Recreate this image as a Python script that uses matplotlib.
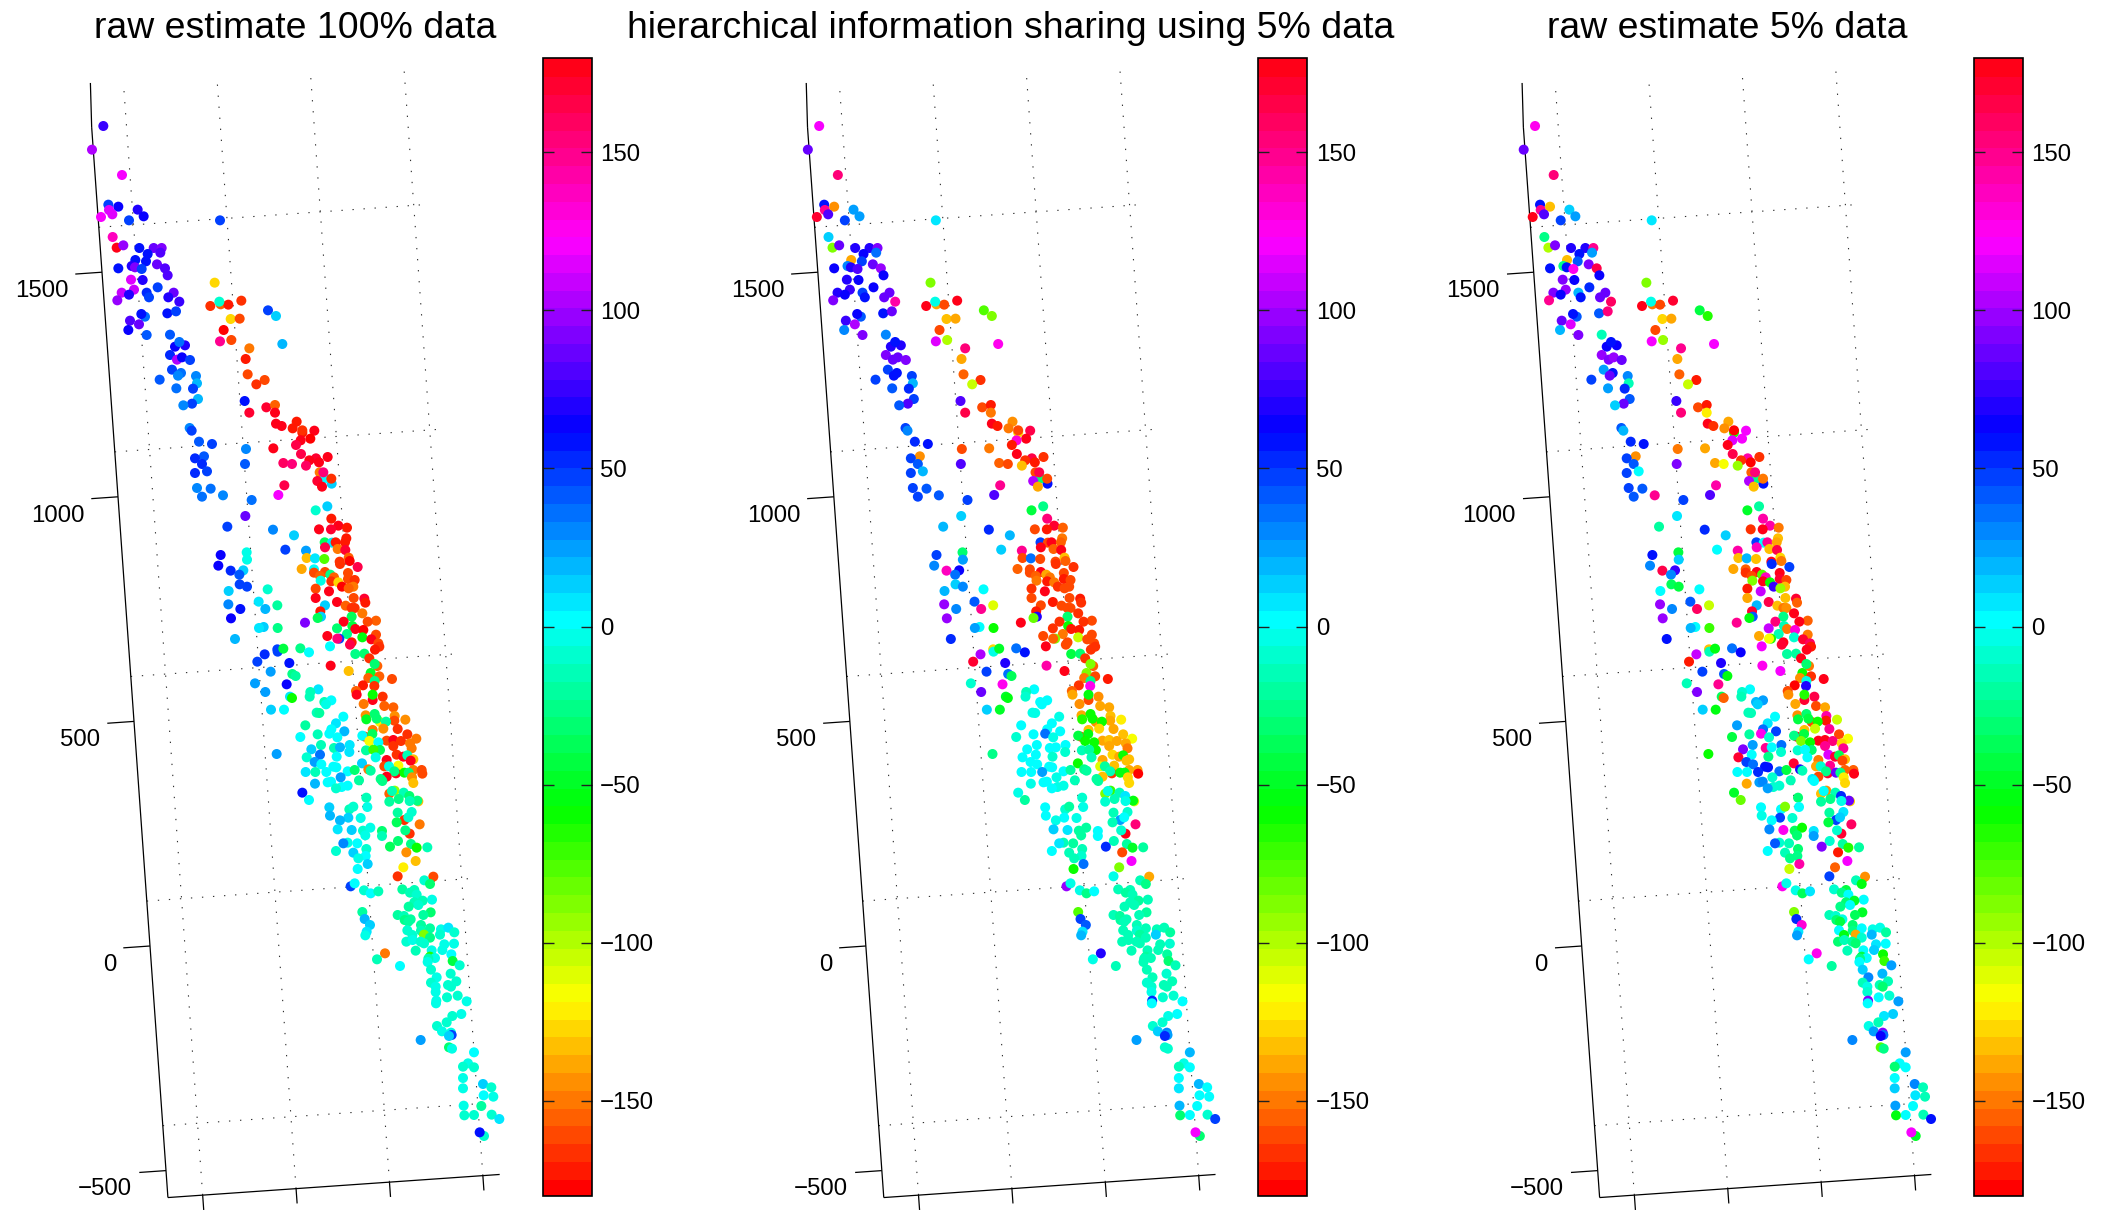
import numpy as np
import matplotlib
matplotlib.use("Agg")
import matplotlib.pyplot as plt
from matplotlib.cm import ScalarMappable
from matplotlib.colors import Normalize

plt.rcParams['font.family'] = ['Liberation Sans', 'DejaVu Sans']

titles = ["raw estimate 100% data",
          "hierarchical information sharing using 5% data",
          "raw estimate 5% data"]
title_centers = [295.5, 1011, 1727]

y_ticks = [-500, 0, 500, 1000, 1500]
y_grid = [-400, 100, 600, 1100, 1600]
x_ticks = [0, 500, 1000, 1500]
cbar_ticks = [-150, -100, -50, 0, 50, 100, 150]

# station positions in the projected view plane, read in three stretches along
# the fault, then the estimated angle at each station for each of the panels
north_x = [130,96,186,145,175,147,157,123,233,251,
           207,480,158,170,190,238,281,305,263,301,
           226,258,215,225,245,291,315,323,175,213,
           248,293,222,185,207,260,267,341,325,172,
           358,255,244,322,348,210,237,205,260,330,
           375,345,358,330,351,366,390,336,363,354,
           299,408,411,349,399,414,396,370,389,395,
           417,456,558,432,405,426,441,405,555,411,
           452,426,489,575,464,451,482,505,478,544,
           624,648,512,539,491,480,514,667,568,557,
           563,614,589,554,568,619,645,645,648,665,
           710,698,727,727,763,751,722,708,640,723,
           803,768,748,777,738,670,696,779,815,795,
           814,790,772,786,673,655]
north_y = [198,269,345,434,440,450,463,471,449,469,
           481,481,531,563,556,564,564,564,582,578,
           600,604,618,622,627,613,625,646,625,659,
           660,682,689,698,704,698,712,698,712,721,
           725,770,762,760,754,782,793,810,825,824,
           856,860,846,885,899,892,900,929,939,947,
           959,948,970,985,986,1017,1031,1036,1104,1112,
           1145,1152,1167,1189,1195,1212,1234,1239,1212,1284,
           1286,1310,1306,1320,668,738,733,734,725,722,
           751,768,777,776,810,844,840,852,865,897,
           943,960,973,1023,1058,1042,1035,1058,1091,1098,
           1085,1105,1118,1111,1112,1136,1141,1155,1165,1182,
           1191,1195,1201,1207,1217,1209,1212,1237,1271,1255,
           1256,1237,1263,1280,1276,1305]
north_full = [75,105,122,50,62,118,115,120,72,65,
              45,45,140,178,100,60,85,92,60,80,
              60,60,70,90,50,88,80,82,60,115,
              70,45,108,112,72,52,48,85,68,100,
              78,35,60,60,45,82,85,62,42,42,
              72,62,38,55,105,62,45,48,35,32,
              42,32,22,38,50,18,48,32,32,45,
              42,45,32,42,52,55,45,55,40,32,
              35,38,32,35,-128,-168,-155,-170,-8,-168,
              48,15,-128,-158,-176,150,-162,18,-148,-172,
              -162,-160,-165,60,170,170,-155,175,178,178,
              -170,-172,-172,-168,178,-176,176,168,178,165,
              178,172,175,175,158,158,155,-150,15,5,
              -166,155,170,176,168,122]
north_hier = [120,85,155,60,-145,150,80,170,28,28,
              45,10,12,-85,85,68,70,92,65,38,
              -140,48,30,68,82,85,98,62,62,70,
              66,65,75,72,62,50,58,85,88,92,
              145,40,65,60,85,75,105,32,90,30,
              68,72,60,90,88,88,92,50,60,60,
              50,45,22,42,52,46,82,40,45,30,
              52,58,-158,-142,45,42,22,45,80,45,
              42,45,42,45,-90,178,-140,-160,-5,175,
              -75,-85,-135,-137,-158,118,-100,125,155,-138,
              -155,-168,-105,80,165,-162,-170,-148,178,-170,
              -142,-148,-128,-162,165,175,130,-170,-148,178,
              -165,165,-165,-170,-130,-155,-158,-158,60,-30,
              -160,165,105,-140,150,82]
north_raw = [125,85,155,60,-130,150,80,178,12,25,
             45,10,-25,-100,95,70,72,150,58,25,
             -130,40,-25,60,125,90,165,62,60,92,
             62,52,100,95,62,22,58,85,88,150,
             160,40,60,40,155,85,118,18,95,-15,
             62,65,60,100,95,98,85,28,58,88,
             50,30,-15,25,55,42,85,15,40,20,
             52,60,-150,-145,50,40,5,45,90,48,
             42,42,150,45,-90,175,-150,-158,-5,172,
             -45,-65,-128,-140,-158,120,-95,120,150,-138,
             -152,-172,-105,78,152,-162,-172,-122,178,-168,
             -140,-142,-65,-175,122,122,118,178,-140,165,
             -165,145,-165,-176,-95,-140,-118,-155,58,-25,
             -150,155,105,-135,145,80]

mid_x = [622,587,376,322,634,655,681,597,633,459,
         522,679,614,636,647,675,615,653,676,496,
         302,380,381,558,560,585,613,686,659,689,
         660,295,713,332,370,358,545,582,582,615,
         600,631,684,642,602,634,655,684,704,359,
         381,666,700,686,587,627,443,326,587,701,
         733,651,736,416,472,325,361,436,615,677,
         695,704,727,601,603,593,333,695,671,768,
         743,555,431,417,473,651,697,706,730,768,
         681,622,658,652,727,754,775,695,690,345,
         630,778,765,472,473,490,541,567,706,733,
         434,748,412,508,772,764,632,452,686,752,
         517,527,778,745,816,764,405,500,763,729,
         595,571,708,710,436,569,758,758,788,510,
         516,613,634,618,731,793,820,453,492,590,
         598,737,764,670,824,856,780,823,739,770,
         798,648,556,758,790,833,634,673,628,593,
         862,735,727,757,652,541,889,748,800,820,
         843,870,875,775,780,689,603,642,660,820,
         738,574,688,760,650,830,850,862,767,600,
         560,470,880,872,800,584,604,726,640,649,
         835,793,807,683,704,557,586,619,745,752,
         828,823,880,905,907,853,866,662,800,782,
         787,876,880,717,585,623,633,683,665,648,
         547,808,824,816,851,868,567,739,836,895,
         892,869,808,628,688,700,742,630,875,833,
         853,865,722,685,660,899,830,653,695,729,
         751,786,869,856,736,786,683,670,712,834,
         873,890,810,922,739,648,700,859,737,715]
mid_y = [79,91,108,140,116,137,143,148,148,149,
         166,175,187,188,187,187,202,207,210,209,
         225,217,239,212,234,235,237,233,245,243,
         252,257,261,272,271,284,267,268,278,276,
         288,284,279,292,302,304,307,297,300,313,
         320,320,320,325,326,334,328,333,354,354,
         356,366,368,365,376,373,387,387,376,377,
         384,384,400,394,410,414,415,410,425,422,
         425,428,441,444,444,445,438,447,450,464,
         462,468,476,476,472,478,490,487,494,477,
         499,500,509,508,515,506,505,517,522,521,
         523,535,545,549,558,552,557,575,573,579,
         582,588,589,594,597,603,610,613,618,616,
         628,636,633,644,636,650,660,644,650,650,
         654,666,661,673,672,678,682,689,689,698,
         699,706,702,710,708,719,726,722,718,716,
         725,730,736,750,746,747,748,754,761,763,
         763,770,767,762,772,771,776,783,782,780,
         783,790,805,787,810,795,795,804,802,798,
         811,808,816,809,830,824,830,826,832,824,
         832,822,838,842,840,846,853,850,860,862,
         857,859,859,874,870,876,876,876,868,872,
         880,874,870,870,881,878,878,892,890,897,
         903,892,909,901,911,907,905,917,921,925,
         938,941,932,933,938,948,960,953,957,964,
         962,963,965,982,988,980,981,1007,996,998,
         1020,1012,1014,1013,1021,1033,1027,1048,1050,1052,
         1043,1053,1061,1051,1066,1068,1088,1090,1090,1083,
         1092,1103,1100,1102,1107,1113,1118,1117,1128,1135]
mid_full = [15,-8,85,50,-172,175,-170,178,172,32,
            15,-170,-35,8,-172,-172,168,-148,170,48,
            62,-5,-5,28,-130,8,-75,-155,-168,-176,
            -168,65,168,55,12,42,-140,5,-160,-158,
            -152,-28,-162,-155,-2,-165,-125,-160,-168,45,
            48,-176,-150,-155,-162,175,-10,15,178,-162,
            172,178,-172,8,-18,32,58,18,12,-152,
            -165,-165,-150,-172,15,-35,62,-35,178,-152,
            -160,95,12,10,-25,-32,-45,175,-176,-158,
            -25,178,48,155,-55,178,-158,-170,165,20,
            5,-168,-172,45,50,-45,-25,5,-25,-30,
            55,-165,48,58,-155,-30,178,25,-132,-50,
            -25,-22,-155,-152,-160,-25,28,62,-165,-172,
            10,-12,-155,178,25,-15,178,-60,-165,8,
            -60,-12,5,-3,-148,-155,-155,15,0,-12,
            -18,-145,-30,3,-145,-145,-122,-160,-50,-30,
            -20,8,-18,-150,-145,-165,5,22,5,-12,
            -165,-160,0,-35,3,5,-150,-115,-162,178,
            -168,-150,-148,0,-35,8,-12,-15,20,-165,
            -18,12,10,-70,0,-165,175,-15,-5,35,
            -10,28,-135,178,178,25,5,12,0,3,
            -115,-158,-5,3,-30,10,-15,0,-150,-20,
            175,-28,-150,-158,-158,-60,-30,25,178,-25,
            -25,-145,-132,-20,18,3,5,3,3,-8,
            60,-155,-95,-15,-15,-30,5,-12,-25,-135,
            -25,-15,-18,15,-12,-10,-5,20,-10,-22,
            -165,-8,-5,15,18,-148,-35,10,15,-8,
            -5,-30,-165,-25,-5,-15,-3,30,2,-32,
            -25,-60,-38,-15,-8,-10,15,-145,0,-3]
mid_hier = [-28,-45,12,18,152,172,-152,-162,-174,55,
            22,-150,48,-160,178,-155,178,-155,178,12,
            48,-32,25,150,-158,35,-158,-130,-160,-155,
            -165,32,-165,138,62,35,-155,-160,-160,178,
            -155,-138,-160,-150,-148,-170,-148,-170,-160,12,
            32,-165,-160,-158,-165,175,3,18,-162,-158,
            -172,-170,-168,42,-110,100,32,150,-160,-162,
            -160,-163,-165,-172,72,-80,100,-30,-165,-162,
            -165,175,5,25,-60,-168,-60,-170,-170,-160,
            -150,-158,-85,-155,-105,-160,-160,-158,-158,52,
            178,-165,-168,-125,-5,-50,35,58,-45,-30,
            105,-165,172,68,-155,-85,145,50,175,-85,
            35,-35,-160,-148,-170,-28,-10,125,125,-165,
            3,-12,-155,-140,88,-10,-160,-55,-145,-50,
            -55,3,5,3,-142,-140,-137,12,-50,-3,
            -5,-140,-60,-3,-135,-122,-145,-140,-65,-60,
            -60,3,2,-135,-125,-140,3,2,38,0,
            -135,-160,-45,-55,-5,-10,-118,-60,-138,-135,
            -140,-140,-150,-60,-60,3,3,0,0,-138,
            -12,3,-8,-20,-10,-125,-138,-60,-15,3,
            3,-25,-135,-135,-140,3,3,-60,3,3,
            -135,-110,-22,3,-20,3,3,25,-25,-22,
            -165,-15,-140,-140,-178,-52,-55,-5,-130,-20,
            -20,-125,-125,-12,-3,3,3,-5,-5,3,
            -5,-85,-70,-3,-15,8,-18,-10,-15,-110,
            -55,-5,-10,3,-10,-20,-5,2,-10,-12,
            25,3,-5,2,-3,155,-12,12,8,-18,
            -18,0,175,-8,-18,3,-12,8,-18,-15,
            -22,-50,55,-18,-15,0,-12,-160,-10,-15]
mid_raw = [-22,-50,8,-20,145,145,-148,-168,178,55,
           15,-135,45,5,150,-138,140,-132,165,5,
           58,-45,15,145,-130,20,-130,-125,178,-148,
           55,32,45,165,75,30,-140,-155,-165,178,
           -158,-75,176,140,-90,176,-60,172,-160,-35,
           -40,75,-135,-95,-172,108,3,5,-140,-135,
           172,168,-155,42,-105,100,32,160,18,-130,
           -150,-145,175,170,42,-55,100,-25,155,-155,
           178,148,0,18,-70,108,-15,-150,130,-150,
           -15,-138,-65,-118,-10,172,160,178,170,58,
           122,-170,178,-130,-15,-55,38,62,-20,-18,
           110,178,-172,68,-150,-30,125,48,122,-58,
           42,-55,-165,-145,178,-5,-12,150,72,-178,
           3,-10,-160,-145,92,-12,172,-62,168,-35,
           -155,22,28,15,-138,-162,-140,15,-55,-12,
           -15,-142,-30,5,145,-105,-158,-172,-45,-40,
           -58,8,25,-135,-105,148,35,50,125,-20,
           -158,178,-25,-40,-10,-40,-118,-85,178,178,
           155,-128,150,-60,-30,35,25,150,3,150,
           -8,95,-8,5,-25,115,172,-35,0,5,
           172,-60,-135,-160,-148,45,35,172,60,60,
           148,-140,-8,35,-45,5,5,55,70,-15,
           170,-25,-155,-155,175,85,-25,-10,-160,10,
           5,-120,-125,-12,-140,25,30,-10,-10,28,
           -50,-130,-145,2,-12,55,-80,-30,-25,-125,
           85,-5,-20,2,5,-85,5,-5,8,-22,
           48,12,-10,50,3,160,-40,30,125,-35,
           -60,10,172,-8,-30,25,-8,40,-15,-8,
           -22,-65,90,-18,-30,2,-12,-170,-25,-25]

south_x = [947,803,910,773,893,1000,752,764,973,990,
           792,812,835,907,943,930,950,996,968,943,
           955,926,893,912,787,992,970,932,914,925,
           794,963,810,922,963,990,1023,1045,1063,800,
           937,1020,796,972,990,1033,1062,919,938,962,
           972,995,1027,947,1054,855,990,1005,985,983,
           1058,831,1079,900,993,1052,1010,1069,993,1007,
           1044,1053,1007,1009,1008,1041,1073,1100,1084,1057,
           1040,1011,1026,1053,1055,1047,962,1047,1056,1122,
           1104,1089,1122,1089,1089,1149,1174,1151,1180,1091,
           1144,1093,1122,1175,1198,1152,1139]
south_y = [3,12,22,27,49,50,79,70,61,72,
           91,100,94,88,90,98,104,119,122,127,
           135,140,165,168,156,157,165,178,180,185,
           177,195,195,211,212,205,208,203,217,215,
           225,224,226,224,233,253,251,245,240,245,
           250,271,270,272,283,280,290,294,296,306,
           303,298,316,318,329,341,352,364,368,380,
           375,380,396,422,430,412,407,424,462,468,
           487,498,514,518,525,528,540,562,566,577,
           610,620,622,654,685,672,682,706,710,737,
           738,766,765,764,777,828,817]
south_full = [-135,15,-120,5,-165,-160,50,5,-10,-30,
              -10,5,-15,-22,-12,-15,-10,-3,-12,-15,
              -10,-18,-18,-12,-22,-30,-18,-18,-25,-20,
              20,-18,15,-8,-15,-18,-5,8,-8,10,
              -8,-8,-5,-85,-25,-5,-3,-10,-5,-10,
              -8,-5,-5,-12,5,-150,-65,-5,-12,-5,
              -45,-12,-8,0,-8,-8,-5,-8,-8,-5,
              -10,-8,-5,-3,-5,-8,-8,-3,-5,-8,
              -8,-10,-5,-3,45,15,25,-30,-5,5,
              -5,-10,-8,-3,-3,15,-8,0,-5,-3,
              -18,-8,-8,-8,10,-8,60]
south_hier = [122,35,-85,-60,-3,-140,100,-3,-12,-25,
              -3,-28,5,-15,-15,-18,-15,-15,-18,-15,
              -12,-15,-15,-18,-75,-18,-15,-15,-18,-15,
              45,-12,40,-12,-10,-15,-12,-12,-20,10,
              -15,15,22,-18,-12,-15,-10,-15,-15,-12,
              -15,-12,-15,-15,-18,68,-22,-12,-15,-15,
              -32,-3,-15,-15,-12,-10,-12,-12,-10,-8,
              -12,-12,-5,55,0,-10,-8,5,5,-3,
              -10,-8,15,30,25,55,25,-10,-8,18,
              -5,-15,0,5,10,18,2,3,2,18,
              2,-30,2,-10,50,-30,122]
south_raw = [122,145,-155,-105,48,-145,125,-3,-12,-55,
             -5,-35,8,-10,-40,-25,5,0,-50,-30,
             2,-25,-12,-8,-85,-50,-35,-5,-30,-40,
             55,-30,130,2,-25,0,-5,-3,-18,8,
             -55,20,25,-140,-8,8,3,-30,-15,-20,
             -30,0,15,-15,-60,125,-40,3,-25,3,
             -70,0,28,-20,12,20,30,-12,-12,-5,
             -15,-30,-10,95,3,0,-10,28,15,8,
             -15,-5,25,95,35,62,32,-75,-25,28,
             2,-30,3,5,12,30,-12,10,-15,28,
             5,-55,3,-12,60,-50,122]

W, H = 2103, 1212
PANEL_STEP = 715.85
X_LEFT = -186    # x value of the slanted y axis
Y_BOTTOM = -560  # y value of the bottom axis


def project(x, y):
    # the 3-D view of the original: axis values to plane units (3 per pixel)
    sx = 150 + 0.1868 * (x - X_LEFT) - 0.032 * y
    sy = 946 - 0.013 * (x - X_LEFT) - 0.4492 * y
    return np.array([sx * 3, sy * 3])


def draw_line(ax, x0, y0, x1, y1, **kw):
    a = project(x0, y0)
    b = project(x1, y1)
    ax.plot([a[0], b[0]], [a[1], b[1]], clip_on=False, solid_capstyle='butt', **kw)


def draw_frame(ax):
    dots = dict(color='#303030', lw=0.8, ls=(0, (1.2, 8.75)))
    for x in x_ticks:
        draw_line(ax, x, Y_BOTTOM, x, 1905, **dots)
    for y in y_grid:
        draw_line(ax, X_LEFT, y, 1570, y, **dots)

    line = dict(color='black', lw=0.9)
    draw_line(ax, X_LEFT, Y_BOTTOM, X_LEFT, 1823, **line)
    draw_line(ax, X_LEFT, 1823, X_LEFT + 10, 1921, **line)
    draw_line(ax, X_LEFT, Y_BOTTOM, 1590, Y_BOTTOM, **line)
    for x in x_ticks:
        draw_line(ax, x, Y_BOTTOM, x, Y_BOTTOM - 33, **line)
    for y in y_ticks:
        draw_line(ax, X_LEFT, y, X_LEFT - 143, y, **line)
        lx, ly = project(X_LEFT - 143, y)
        label = str(y).replace('-', '\u2212')
        ax.text(lx - 21, ly + 51, label, ha='right', va='center', fontsize=17.3)


plot_x = np.r_[np.array(north_x) + 180, np.array(mid_x) + 360, np.array(south_x) + 300]
plot_y = np.r_[np.array(north_y) + 180, np.array(mid_y) + 1440, np.array(south_y) + 2580]
panels = [north_full + mid_full + south_full,
          north_hier + mid_hier + south_hier,
          north_raw + mid_raw + south_raw]

cmap = plt.get_cmap('hsv', 64)
norm = Normalize(-180, 180)

fig = plt.figure(figsize=(W / 100, H / 100), dpi=100)

for k, values in enumerate(panels):
    shift = k * PANEL_STEP
    ax = fig.add_axes([shift / W, 0, 540 / W, 1])
    ax.set_xlim(0, 1620)
    ax.set_ylim(H * 3, 0)
    ax.axis('off')
    draw_frame(ax)
    ax.scatter(plot_x, plot_y, c=values, cmap=cmap, norm=norm, s=52, linewidths=0,
               zorder=3, clip_on=False)

    fig.text(title_centers[k] / W, 1 - 37.5 / H, titles[k], ha='center', va='baseline', fontsize=26.9)

    cax = fig.add_axes([(542.5 + shift) / W, 1 - 1195.5 / H, 49 / W, 1138 / H])
    cbar = fig.colorbar(ScalarMappable(norm=norm, cmap=cmap), cax=cax, ticks=cbar_ticks)
    cbar.solids.set_edgecolor('face')
    cbar.outline.set_linewidth(1.2)
    cax.tick_params(axis='y', direction='in', left=True, right=True, length=8, width=1,
                    color='#202020', labelsize=17.3, pad=6)

fig.savefig("out.png", dpi=100)
